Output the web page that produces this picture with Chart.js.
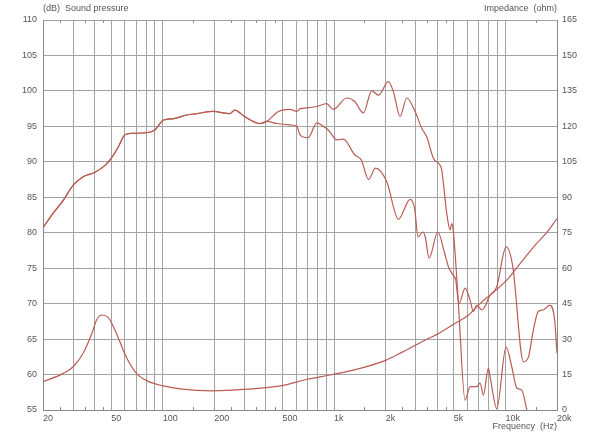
<!DOCTYPE html>
<html>
<head>
<meta charset="utf-8">
<script src="https://cdn.jsdelivr.net/npm/chart.js@4.4.1/dist/chart.umd.min.js"></script>
<style>
  html, body { margin: 0; padding: 0; background: #fff; }
  #wrap { width: 600px; height: 433px; position: relative; }
</style>
</head>
<body>
<div id="wrap"><canvas id="myChart"></canvas></div>
<script>
// Sound pressure, on-axis (upper curve)
const freqOnAxis = [20, 23, 26.3, 30, 34.3, 40, 46, 50, 55, 60, 65, 80, 90, 101, 116, 138, 158, 197, 246, 263, 300, 369, 404,
  473, 553, 605, 633, 692, 792, 904, 990, 1186, 1319, 1482, 1659, 1814, 2074, 2218, 2428, 2656, 2970, 3250, 3476, 3798, 4156,
  4252, 4546, 4754, 4864, 4970, 5300, 5816, 6220, 6804, 7114, 7436, 7954, 8137, 8904, 10090, 10890, 11650, 12460, 13330, 14000];
const splOnAxis = [80.7, 82.8, 84.6, 86.7, 87.9, 88.5, 89.5, 90.5, 92.1, 93.8, 94.0, 94.1, 94.5, 95.9, 96.1, 96.6, 96.8, 97.1, 96.8, 97.3, 96.4, 95.4, 95.7,
  97.1, 97.4, 97.1, 97.5, 97.6, 97.8, 98.2, 97.4, 99.0, 98.5, 96.9, 100.0, 99.4, 101.3, 99.9, 96.4, 99.0, 97.1, 94.7, 93.5, 90.5, 89.5,
  88.8, 82.7, 80.4, 81.3, 80.1, 70.5, 56.4, 58.3, 58.3, 58.8, 57.1, 60.9, 59.7, 55.2, 63.9, 61.1, 58.1, 57.8, 55.0, 53.0];

// Sound pressure, off-axis (lower curve)
const freqOffAxis = [20, 23, 26.3, 30, 34.3, 40, 46, 50, 55, 60, 65, 80, 90, 101, 116, 138, 158, 197, 246, 263, 300, 369, 404,
  463, 553, 605, 633, 661, 706, 792, 866, 904, 946, 1036, 1133, 1319, 1440, 1590, 1740, 2030, 2374, 2777, 2952, 3090, 3290, 3400,
  3585, 4030, 4418, 4646, 4864, 5130, 5350, 5816, 6220, 6500, 6804, 7300, 8137, 8900, 10090, 11130, 11280, 12740, 13630, 14560,
  15550, 16600, 18150, 19380, 20000];
const splOffAxis = [80.7, 82.8, 84.6, 86.7, 87.9, 88.5, 89.5, 90.5, 92.1, 93.8, 94.0, 94.1, 94.5, 95.9, 96.1, 96.6, 96.8, 97.1, 96.8, 97.3, 96.4, 95.4, 95.7,
  95.4, 95.2, 95.0, 93.8, 93.5, 93.4, 95.5, 95.0, 94.7, 94.2, 93.1, 93.2, 91.0, 90.3, 87.5, 89.1, 87.2, 81.9, 84.7, 83.4, 79.4, 80.1, 79.5,
  76.4, 80.1, 77.1, 75.2, 74.3, 73.3, 70.0, 72.2, 70.5, 68.9, 69.8, 69.1, 71.2, 72.4, 78.0, 74.7, 73.3, 61.8, 62.5, 66.3,
  68.9, 69.1, 69.8, 67.7, 63.0];

// Impedance (right axis)
const freqImp = [20, 26.3, 30, 34.3, 38.6, 41.1, 43.9, 48, 53.6, 61, 70.2, 83.1, 101, 126, 197, 309, 485, 708, 946,
  1400, 2000, 2500, 3000, 3500, 4100, 5100, 6100, 7100, 8100, 9400, 10500, 11600, 13000, 15000, 17400, 20000];
const impedance = [12.0, 15.5, 18.3, 24.0, 32.5, 38.1, 40.2, 39.2, 32.5, 22.6, 15.5, 12.0, 10.2, 8.9, 8.1, 8.8, 10.2, 13.1, 14.8,
  17.5, 21.0, 24.5, 27.5, 30.0, 32.5, 36.7, 40.2, 45.0, 48.5, 52.5, 56.0, 60.0, 64.5, 70.0, 75.0, 81.0];

// Axis ticks
const xGrid = [20, 30, 40, 50, 60, 70, 80, 90, 100, 200, 300, 400, 500, 600, 700, 800, 900, 1000,
  2000, 3000, 4000, 5000, 6000, 7000, 8000, 9000, 10000, 20000];
const xLabels = { 20: '20', 50: '50', 100: '100', 200: '200', 500: '500', 1000: '1k', 2000: '2k', 5000: '5k', 10000: '10k', 20000: '20k' };
const xMinor = [25, 35, 45, 150, 250, 350, 450, 1500, 2500, 3500, 4500, 15000];

const lineColor = '#b85d54';
const gridColor = '#a3a3a3';
const textColor = '#555';
const labelFont = { family: 'Liberation Sans, Arial, sans-serif', size: 9 };

function toPoints(xs, ys) {
    return xs.map((x, i) => ({ x: x, y: ys[i] }));
}

// Titles and small tick marks
const extras = {
    id: 'extras',
    afterDraw(chart) {
        const ctx = chart.ctx;
        const area = chart.chartArea;
        const xs = chart.scales.x;
        ctx.save();
        ctx.strokeStyle = '#8a8a8a';
        ctx.lineWidth = 1;
        xMinor.forEach(v => {
            const px = Math.round(xs.getPixelForValue(v)) + 0.5;
            ctx.beginPath();
            ctx.moveTo(px, area.top);
            ctx.lineTo(px, area.top + 3);
            ctx.moveTo(px, area.bottom);
            ctx.lineTo(px, area.bottom - 3);
            ctx.stroke();
        });
        ctx.fillStyle = textColor;
        ctx.font = '9px Liberation Sans, Arial, sans-serif';
        ctx.textBaseline = 'middle';
        ctx.textAlign = 'left';
        ctx.fillText('(dB)  Sound pressure', 43, 9);
        ctx.textAlign = 'right';
        ctx.fillText('Impedance  (ohm)', 557, 9);
        ctx.fillText('Frequency  (Hz)', 557, 427);
        ctx.restore();
    }
};

const ctx = document.getElementById('myChart').getContext('2d');
new Chart(ctx, {
    type: 'line',
    data: {
        datasets: [
            { data: toPoints(freqOnAxis, splOnAxis), yAxisID: 'y' },
            { data: toPoints(freqOffAxis, splOffAxis), yAxisID: 'y' },
            { data: toPoints(freqImp, impedance), yAxisID: 'y2' }
        ].map(d => Object.assign(d, {
            borderColor: lineColor,
            borderWidth: 1.2,
            pointRadius: 0,
            fill: false,
            cubicInterpolationMode: 'monotone'
        }))
    },
    options: {
        responsive: true,
        maintainAspectRatio: false,
        animation: false,
        layout: { padding: { top: 20, left: 0, right: 0, bottom: 0 } },
        plugins: { legend: { display: false }, tooltip: { enabled: false } },
        scales: {
            x: {
                type: 'logarithmic',
                min: 20,
                max: 20000,
                afterBuildTicks: scale => { scale.ticks = xGrid.map(v => ({ value: v })); },
                afterFit: scale => { scale.height = 23; },
                ticks: {
                    autoSkip: false,
                    maxRotation: 0,
                    align: 'start',
                    padding: 3,
                    color: textColor,
                    font: labelFont,
                    callback: value => xLabels[value] || ''
                },
                grid: { color: gridColor, drawTicks: false },
                border: { color: '#888' }
            },
            y: {
                position: 'left',
                min: 55,
                max: 110,
                afterFit: scale => { scale.width = 43; },
                ticks: { stepSize: 5, padding: 6, color: textColor, font: labelFont },
                grid: { color: gridColor, drawTicks: false },
                border: { color: '#888' }
            },
            y2: {
                position: 'right',
                min: 0,
                max: 165,
                afterFit: scale => { scale.width = 43; },
                ticks: { stepSize: 15, padding: 5, color: textColor, font: labelFont },
                grid: { drawOnChartArea: false, drawTicks: false },
                border: { color: '#888' }
            }
        }
    },
    plugins: [extras]
});
</script>
</body>
</html>
